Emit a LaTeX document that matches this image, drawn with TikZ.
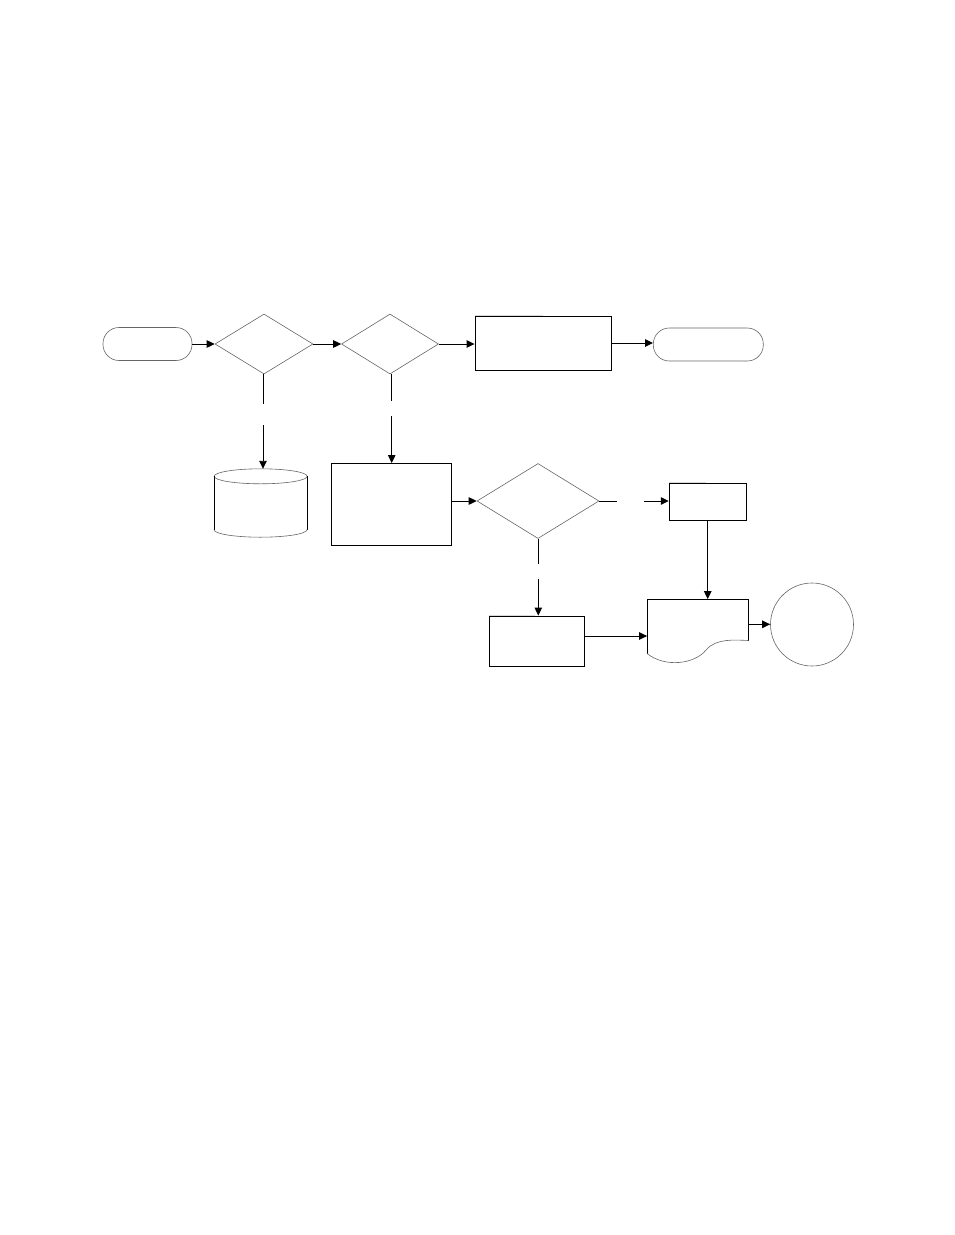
\documentclass[tikz,border=0pt]{standalone}
\usetikzlibrary{shapes.geometric,arrows.meta}
\begin{document}
\begin{tikzpicture}[x=1pt,y=-1pt,
  thin line/.style={draw=black!60, line width=0.6pt},
  boxline/.style={draw=black, line width=0.9pt},
  terminal/.style={thin line, rectangle, rounded corners=16pt, inner sep=0pt, minimum width=#1, minimum height=33pt},
  decision/.style={thin line, diamond, inner sep=0pt},
  procbox/.style={boxline, rectangle, inner sep=0pt},
  ghost/.style={rectangle, inner sep=0pt, draw=none},
  conn/.style={draw=black, line width=0.9pt},
  arr/.style={conn, -{Triangle[length=8pt,width=7.5pt]}},
  faint/.style={draw=black!15, line width=1pt}
]
\useasboundingbox[fill=white] (0,0) rectangle (954,1235);

% nodes
\node[terminal=89pt] (start) at (147.5,344) {};
\node[decision, minimum width=98pt, minimum height=60pt] (d1) at (264,344) {};
\node[decision, minimum width=97pt, minimum height=60pt] (d2) at (390,344) {};
\node[procbox, minimum width=136pt, minimum height=54pt] (p1) at (543,343) {};
\node[terminal=110pt] (stop) at (708.3,344.5) {};
\node[ghost, minimum width=93pt, minimum height=68pt] (cyl) at (260.7,503) {};
\node[procbox, minimum width=120pt, minimum height=82pt] (b) at (391,504.5) {};
\node[decision, minimum width=122pt, minimum height=75pt] (d3) at (538,501) {};
\node[procbox, minimum width=77pt, minimum height=37pt] (c) at (707.7,501.7) {};
\node[procbox, minimum width=95pt, minimum height=50pt] (e) at (537,641) {};
\node[ghost, minimum width=101pt, minimum height=54pt] (doc) at (697.8,626.3) {};
\node[thin line, circle, inner sep=0pt, minimum size=83pt] (circ) at (812,624.5) {};

% cylinder
\draw[thin line] ([yshift=-7.5pt]cyl.north) ellipse [x radius=46.5pt, y radius=7.5pt];
\draw[boxline] ([yshift=-7.5pt]cyl.north west) -- ([yshift=7.5pt]cyl.south west);
\draw[boxline] ([yshift=-7.5pt]cyl.north east) -- ([yshift=7.5pt]cyl.south east);
\draw[thin line] ([yshift=7.5pt]cyl.south west) arc[start angle=180, end angle=360, x radius=46.5pt, y radius=7.5pt];

% document
\draw[boxline] (doc.south west) -- (doc.north west) -- (doc.north east) -- ([yshift=13pt]doc.south east);
\draw[thin line] (doc.south west) .. controls (665,668) and (695,664) .. (706,650)
  .. controls (716,638) and (735,640) .. ([yshift=13pt]doc.south east);

% faint edge fragments
\draw[faint] (p1.north west) -- ([xshift=68pt]p1.north west);
\draw[faint] (c.north west) -- ([xshift=37pt]c.north west);
\draw[faint] (e.north west) -- ([xshift=46pt]e.north west);
\draw[black!20, line width=0.6pt] ([xshift=-38pt]stop.south) -- ([xshift=32pt]stop.south);

% gap coordinates
\coordinate (g1a) at (263,404);
\coordinate (g1b) at (263,425);
\coordinate (g2a) at (391.7,400.7);
\coordinate (g2b) at (391.7,416);
\coordinate (g3a) at (616.7,501);
\coordinate (g3b) at (644,501);
\coordinate (g4a) at (538.3,564.3);
\coordinate (g4b) at (538.3,579.3);

% connectors
\draw[arr] (start.east) -- (d1.west);
\draw[arr] (d1.east) -- (d2.west);
\draw[arr] (d2.east) -- (d2.east -| p1.west);
\draw[arr] (p1.east) -- (p1.east -| stop.west);

\draw[conn] (d1.south -| g1a) -- (g1a);
\draw[arr] (g1b) -- (g1b |- cyl.north);
\draw[conn] (d2.south -| g2a) -- (g2a);
\draw[arr] (g2b) -- (g2b |- b.north);

\draw[arr] (b.east |- d3.west) -- (d3.west);
\draw[conn] (d3.east) -- (g3a);
\draw[arr] (g3b) -- (g3b -| c.west);
\draw[conn] (d3.south -| g4a) -- (g4a);
\draw[arr] (g4b) -- (g4b |- e.north);

\draw[arr] (c.south) -- (c.south |- doc.north);
\draw[arr] ([yshift=5pt]e.east) -- ([yshift=5pt]e.east -| doc.west);
\draw[arr] ([yshift=2pt]doc.east) -- ([yshift=2pt]doc.east -| circ.west);
\end{tikzpicture}
\end{document}
